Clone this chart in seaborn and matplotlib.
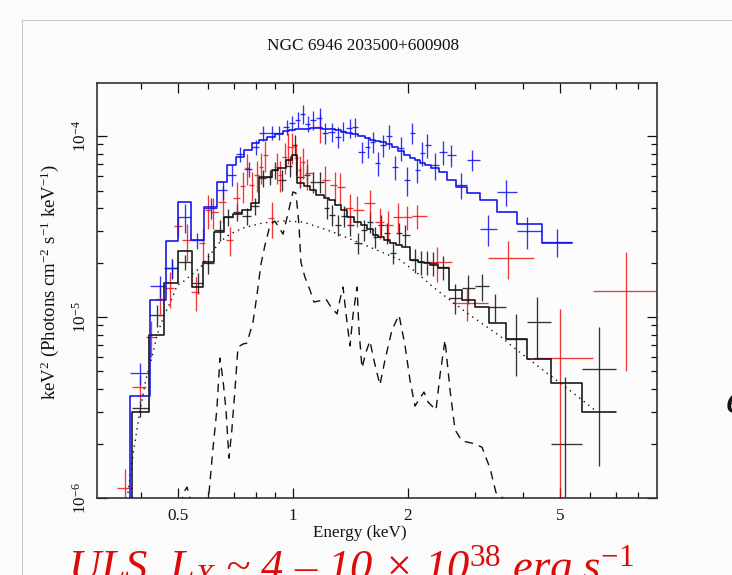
import numpy as np
import pandas as pd
import matplotlib
matplotlib.use("Agg")
import matplotlib.pyplot as plt
from matplotlib.lines import Line2D
from matplotlib.ticker import FixedLocator, FixedFormatter, NullFormatter
import seaborn as sns

# Flux arrays are in units of 1e-5 keV^2 (photons cm^-2 s^-1 keV^-1)
UNIT = 1e-5

# Blue spectrum: bin centre energy (keV), unfolded flux, 1-sigma error, model
blue_energy = [0.398, 0.449, 0.482, 0.522, 0.561, 0.610, 0.656, 0.692, 0.727, 0.767,
               0.800, 0.834, 0.881, 0.919, 0.964, 0.994, 1.031, 1.062, 1.095, 1.128,
               1.177, 1.213, 1.265, 1.312, 1.352, 1.410, 1.453, 1.516, 1.571, 1.620,
               1.669, 1.720, 1.784, 1.850, 1.918, 1.988, 2.050, 2.113, 2.177, 2.244,
               2.355, 2.471, 2.593, 2.754, 2.942, 3.240, 3.611, 4.099, 4.911]
blue_flux = [0.49, 1.48, 1.87, 3.57, 2.66, 4.00, 5.03, 6.09, 7.95, 6.57,
             8.69, 10.39, 10.39, 10.39, 11.21, 11.80, 12.26, 13.23, 11.65, 12.26,
             12.57, 10.39, 10.52, 9.87, 10.66, 11.07, 11.21, 8.16, 8.69, 9.27,
             7.09, 8.92, 10.0, 6.74, 8.58, 5.71, 10.39, 6.49, 8.06, 8.92,
             6.92, 8.16, 7.85, 5.36, 7.37, 3.06, 4.91, 2.99, 2.60]
blue_err = [0.07, 0.21, 0.22, 0.64, 0.27, 0.52, 0.60, 0.79, 0.72, 0.66,
            0.87, 1.04, 0.94, 0.94, 1.12, 1.18, 1.23, 1.59, 1.17, 1.47,
            1.63, 1.35, 1.26, 1.28, 1.28, 1.33, 1.35, 1.06, 1.13, 1.21,
            1.06, 1.25, 1.50, 1.01, 1.29, 1.03, 1.35, 0.97, 1.21, 1.34,
            1.18, 1.22, 1.10, 0.86, 0.96, 0.60, 0.78, 0.60, 0.45]
blue_model = [0.366, 1.24, 2.63, 4.34, 2.66, 4.07, 5.59, 6.92, 7.65, 8.37,
              9.15, 9.50, 9.87, 10.26, 10.66, 10.79, 10.93, 10.93, 11.0, 11.07,
              11.07, 11.0, 10.93, 10.79, 10.52, 10.39, 10.26, 10.0, 9.75, 9.50,
              9.38, 9.27, 9.03, 8.69, 8.26, 7.85, 7.56, 7.37, 7.09, 6.92,
              6.66, 6.33, 5.71, 5.22, 4.84, 4.43, 3.82, 3.26, 2.57]

# Red spectrum
red_energy = [0.363, 0.398, 0.425, 0.449, 0.477, 0.500, 0.528, 0.557, 0.581, 0.599,
              0.618, 0.656, 0.684, 0.714, 0.740, 0.758, 0.781, 0.805, 0.825, 0.845,
              0.881, 0.908, 0.925, 0.953, 0.971, 0.994, 1.018, 1.043, 1.062, 1.089,
              1.177, 1.213, 1.288, 1.328, 1.410, 1.471, 1.591, 1.690, 1.773, 1.884,
              1.988, 2.113, 2.383, 2.855, 3.656, 5.0, 7.44]
red_flux = [0.114, 0.410, 0.775, 1.257, 1.446, 3.18, 2.66, 1.374, 2.56, 3.90,
            3.80, 4.32, 2.66, 4.54, 5.29, 6.66, 5.36, 6.09, 6.74, 7.85,
            3.52, 6.74, 6.09, 7.66, 8.69, 8.69, 7.56, 6.49, 7.18, 6.25,
            11.21, 5.71, 5.36, 5.23, 4.00, 3.90, 4.26, 3.35, 3.22, 3.57,
            3.57, 3.61, 2.01, 1.195, 2.12, 0.593, 1.392]
red_err = [0.03, 0.06, 0.17, 0.24, 0.33, 0.40, 0.62, 0.29, 0.55, 0.85,
           0.72, 1.0, 0.5, 1.0, 1.0, 1.27, 1.0, 1.16, 1.28, 1.5,
           0.8, 1.28, 1.16, 1.46, 1.65, 1.65, 1.44, 1.23, 1.36, 1.19,
           2.1, 1.08, 1.0, 1.0, 0.76, 0.74, 0.8, 0.64, 0.61, 0.68,
           0.54, 0.55, 0.44, 0.25, 0.5, 0.51, 0.89]

# Black spectrum
black_energy = [0.398, 0.441, 0.482, 0.522, 0.564, 0.599, 0.644, 0.676, 0.714, 0.758,
                0.795, 0.834, 0.871, 0.897, 0.936, 0.982, 1.012, 1.043, 1.089, 1.128,
                1.177, 1.228, 1.265, 1.312, 1.360, 1.410, 1.480, 1.534, 1.591, 1.640,
                1.700, 1.763, 1.828, 1.895, 1.964, 2.087, 2.164, 2.244, 2.326, 2.471,
                2.655, 2.872, 3.125, 3.380, 3.836, 4.354, 5.15, 6.33]
black_flux = [0.314, 1.026, 1.865, 2.01, 1.541, 1.987, 3.03, 3.57, 3.80, 3.61,
              4.10, 5.86, 5.93, 6.49, 5.71, 6.83, 8.92, 5.93, 6.09, 5.57,
              5.57, 4.00, 3.66, 3.22, 3.61, 3.22, 2.56, 3.03, 3.35, 2.77,
              3.22, 2.91, 2.26, 2.91, 2.84, 2.07, 2.01, 2.01, 1.99, 1.89,
              1.273, 1.446, 1.483, 1.136, 0.755, 0.938, 0.199, 0.516]
black_err = [0.033, 0.14, 0.24, 0.2, 0.2, 0.26, 0.4, 0.37, 0.4, 0.38,
             0.43, 0.6, 0.6, 0.68, 0.75, 0.9, 1.15, 0.78, 0.8, 0.73,
             0.73, 0.52, 0.48, 0.42, 0.47, 0.42, 0.34, 0.4, 0.44, 0.36,
             0.42, 0.38, 0.3, 0.38, 0.37, 0.32, 0.31, 0.31, 0.31, 0.29,
             0.24, 0.27, 0.25, 0.2, 0.28, 0.35, 0.267, 0.365]
black_model = [0.299, 0.795, 1.541, 2.315, 1.464, 2.01, 2.95, 3.57, 3.71, 3.90,
               4.26, 5.93, 5.93, 6.49, 6.66, 7.37, 7.85, 5.50, 5.29, 5.03,
               4.72, 4.54, 4.43, 4.16, 3.90, 3.57, 3.35, 3.22, 3.06, 2.84,
               2.77, 2.66, 2.56, 2.50, 2.44, 2.07, 2.01, 1.99, 1.94, 1.865,
               1.41, 1.24, 1.136, 0.926, 0.755, 0.586, 0.432, 0.299]

# Continuum component (dotted)
cont_energy = [0.370, 0.383, 0.398, 0.412, 0.427, 0.441, 0.460, 0.477, 0.498, 0.515,
               0.537, 0.571, 0.606, 0.644, 0.684, 0.740, 0.834, 0.942, 1.062, 1.273,
               1.562, 1.906, 2.113, 2.326, 2.855, 3.086, 3.48, 3.767, 4.62, 5.09, 6.17]
cont_flux = [0.1066, 0.184, 0.306, 0.449, 0.593, 0.795, 1.026, 1.195, 1.50, 1.56,
             1.68, 1.865, 2.20, 2.60, 2.87, 3.10, 3.31, 3.39, 3.35, 2.95,
             2.47, 2.07, 1.75, 1.464, 1.052, 0.938, 0.785, 0.683, 0.49, 0.421, 0.306]

# Thermal line-emission component (dashed)
line_energy = [0.509, 0.518, 0.528, 0.537, 0.547, 0.595, 0.603, 0.617, 0.632, 0.644,
               0.656, 0.668, 0.680, 0.692, 0.705, 0.718, 0.740, 0.758, 0.786, 0.805,
               0.824, 0.845, 0.871, 0.897, 0.914, 0.942, 0.971, 1.000, 1.018, 1.037,
               1.049, 1.075, 1.108, 1.135, 1.177, 1.220, 1.257, 1.304, 1.327, 1.352,
               1.385, 1.410, 1.436, 1.471, 1.489, 1.516, 1.553, 1.590, 1.629, 1.689,
               1.741, 1.816, 1.895, 1.964, 2.024, 2.086, 2.150, 2.203, 2.257, 2.368,
               2.426, 2.500, 2.577, 2.656, 2.770, 2.942, 3.124, 3.279, 3.400, 3.546, 3.699]
line_flux = [0.0915, 0.107, 0.115, 0.101, 0.086, 0.086, 0.107, 0.184, 0.306, 0.593,
             0.449, 0.306, 0.166, 0.238, 0.395, 0.683, 0.709, 0.718, 0.938, 1.32,
             1.94, 2.50, 3.22, 3.39, 3.18, 2.87, 3.75, 4.91, 4.84, 3.22,
             2.01, 1.66, 1.41, 1.21, 1.23, 1.257, 1.136, 1.04, 1.24, 1.464,
             0.938, 0.692, 1.026, 1.464, 0.848, 0.523, 0.640, 0.737, 0.578, 0.421,
             0.578, 0.848, 1.026, 0.700, 0.449, 0.322, 0.357, 0.385, 0.339, 0.306,
             0.478, 0.746, 0.395, 0.238, 0.2065, 0.201, 0.191, 0.146, 0.107, 0.100, 0.0805]

x_major = [0.5, 1, 2, 5]
x_major_labels = ["0.5", "1", "2", "5"]
x_minor = [0.4, 0.6, 0.7, 0.8, 0.9, 3, 4, 6, 7, 8]
y_major = [1e-6, 1e-5, 1e-4]
y_major_labels = [r"$10^{-6}$", r"$10^{-5}$", r"$10^{-4}$"]

sns.set_theme(style="ticks")
plt.rcParams["font.family"] = ["Liberation Serif", "DejaVu Serif"]
plt.rcParams["mathtext.fontset"] = "custom"
plt.rcParams["mathtext.rm"] = "Liberation Serif"
plt.rcParams["mathtext.it"] = "Liberation Serif:italic"
plt.rcParams["mathtext.bf"] = "Liberation Serif:bold"

BLUE = "#1010f0"
RED = "#ee1515"
BLACK = "#111111"


def bin_edges(energy):
    """Contiguous bin edges halfway (in log E) between neighbouring bin centres."""
    le = np.log10(np.asarray(energy))
    mid = 0.5 * (le[1:] + le[:-1])
    return 10 ** np.concatenate([[2 * le[0] - mid[0]], mid, [2 * le[-1] - mid[-1]]])


def spectrum_frame(energy, flux, err):
    e = np.asarray(energy)
    f = np.asarray(flux) * UNIT
    s = np.asarray(err) * UNIT
    edges = bin_edges(energy)
    return pd.DataFrame({"e": e, "f": f,
                         "lo": np.minimum(s, 0.97 * f), "hi": s,
                         "xl": e - edges[:-1], "xh": edges[1:] - e})


def draw_crosses(ax, df, color):
    ax.errorbar(df["e"], df["f"], yerr=[df["lo"], df["hi"]],
                xerr=[df["xl"], df["xh"]], fmt="none", ecolor=color,
                elinewidth=0.95, capsize=0, alpha=0.85, zorder=2)


def draw_model(ax, energy, model, color):
    edges = bin_edges(energy)
    xs = np.concatenate([[edges[0]], np.repeat(edges, 2)[1:-1]])
    ys = np.concatenate([[1e-9], np.repeat(np.asarray(model) * UNIT, 2)])
    step = pd.DataFrame({"E": xs, "F": ys})
    sns.lineplot(data=step, x="E", y="F", ax=ax, sort=False, estimator=None,
                 color=color, linewidth=1.15, zorder=3)


fig = plt.figure(figsize=(7.32, 5.75), dpi=100)
fig.patch.set_facecolor("#fbfbfb")
ax = fig.add_axes([97 / 732, 1 - 498 / 575, 560 / 732, 415 / 575])
ax.set_facecolor("#fcfcfc")
ax.set_xscale("log")
ax.set_yscale("log")

blue_df = spectrum_frame(blue_energy, blue_flux, blue_err)
red_df = spectrum_frame(red_energy, red_flux, red_err)
black_df = spectrum_frame(black_energy, black_flux, black_err)

draw_crosses(ax, black_df, BLACK)
draw_crosses(ax, red_df, RED)
draw_crosses(ax, blue_df, BLUE)

cont = pd.DataFrame({"E": cont_energy, "F": np.asarray(cont_flux) * UNIT})
sns.lineplot(data=cont, x="E", y="F", ax=ax, sort=False, estimator=None,
             color=BLACK, linewidth=1.0, linestyle=(0, (1, 3.2)), zorder=3)
line = pd.DataFrame({"E": line_energy, "F": np.asarray(line_flux) * UNIT})
sns.lineplot(data=line, x="E", y="F", ax=ax, sort=False, estimator=None,
             color=BLACK, linewidth=1.0, linestyle=(0, (6, 4.5)), zorder=3)

draw_model(ax, black_energy, black_model, BLACK)
draw_model(ax, blue_energy, blue_model, BLUE)

ax.set_xlim(0.307, 8.97)
ax.set_ylim(1e-6, 1.963e-4)

ax.xaxis.set_major_locator(FixedLocator(x_major))
ax.xaxis.set_major_formatter(FixedFormatter(x_major_labels))
ax.xaxis.set_minor_locator(FixedLocator(x_minor))
ax.xaxis.set_minor_formatter(NullFormatter())
y_minor = [m * d for d in (1e-6, 1e-5, 1e-4) for m in range(2, 10) if m * d < 1.963e-4]
ax.yaxis.set_major_locator(FixedLocator(y_major))
ax.yaxis.set_major_formatter(FixedFormatter(y_major_labels))
ax.yaxis.set_minor_locator(FixedLocator(y_minor))
ax.yaxis.set_minor_formatter(NullFormatter())

ax.tick_params(which="both", direction="in", top=True, right=True,
               color=BLACK, width=0.9)
ax.tick_params(which="major", length=7.5)
ax.tick_params(which="minor", length=4)
ax.tick_params(axis="x", which="major", pad=7, labelsize=12.3, labelcolor=BLACK)
ax.tick_params(axis="y", which="major", pad=5, labelsize=12.3, labelcolor=BLACK)
for lab in ax.get_yticklabels():
    lab.set_rotation(90)
    lab.set_verticalalignment("center")
for sp in ax.spines.values():
    sp.set_color("#333333")
    sp.set_linewidth(1.2)

ax.set_xlabel("")
ax.set_ylabel("")
fig.text(360 / 732, 1 - 533 / 575, "Energy (keV)", ha="center", va="center",
         fontsize=12.3, color=BLACK)
fig.text(50 / 732, 1 - 282 / 575,
         r"keV$^{2}$ (Photons cm$^{-2}$ s$^{-1}$ keV$^{-1}$)",
         ha="center", va="center", rotation=90, fontsize=13.5, color=BLACK)
fig.text(363 / 732, 1 - 46 / 575, "NGC 6946 203500+600908", ha="center",
         va="center", fontsize=12.4, color=BLACK)

fig.text(68 / 732, 1 - 580 / 575,
         r"ULS, L$_{\mathit{X}}$ ~ 4 – 10 × 10$^{\mathit{38}}$ erg s$^{\mathit{-1}}$",
         ha="left", va="baseline", fontsize=32, style="italic", color="#dd0a0a")
fig.text(726 / 732, 1 - 413 / 575, "e", ha="left", va="baseline",
         fontsize=32, style="italic", color=BLACK)

fig.add_artist(Line2D([22 / 732, 1], [1 - 20 / 575, 1 - 20 / 575],
                      color="#c9c9c9", linewidth=0.8))
fig.add_artist(Line2D([22 / 732, 22 / 732], [0, 1 - 20 / 575],
                      color="#c9c9c9", linewidth=0.8))

fig.savefig("out.png", dpi=100, facecolor=fig.get_facecolor())
